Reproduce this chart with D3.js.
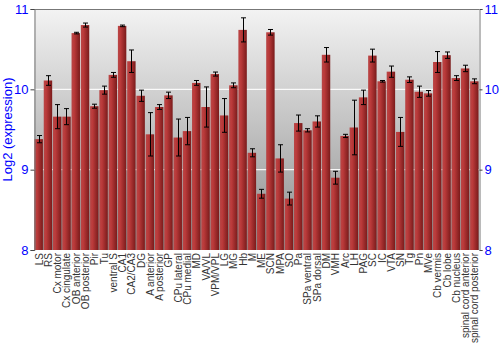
<!DOCTYPE html>
<html><head><meta charset="utf-8">
<script src="https://cdn.jsdelivr.net/npm/d3@7"></script>
<style>body{margin:0;background:#fff}svg{display:block}</style>
</head><body><svg id="c" width="500" height="350"></svg>
<script>
const categories = ["LS","RS","Cx motor","Cx cingulate","OB anterior","OB posterior","Pir","Tu","ventral S","CA1","CA2/CA3","DG","A anterior","A posterior","GP","CPu lateral","CPu medial","MD","VA/VL","VPM/VPL","LG","MG","Hb","M","ME","SCN","MPA","SO","Pa","SPa ventral","SPa dorsal","DM","VMH","Arc","LH","PAG","SC","IC","VTA","SN","Tg","Pn","MVe","Cb vermis","Cb lobe","Cb nucleus","spinal cord anterior","spinal cord posterior"];
const values = [9.38,10.11,9.66,9.66,10.70,10.80,9.79,9.99,10.18,10.79,10.35,9.92,9.44,9.78,9.925,9.40,9.48,10.08,9.78,10.19,9.675,10.05,10.74,9.21,8.70,10.71,9.14,8.64,9.58,9.49,9.60,10.43,8.90,9.42,9.525,9.90,10.42,10.10,10.22,9.47,10.12,9.97,9.95,10.34,10.425,10.14,10.26,10.10];
const errors = [0.045,0.06,0.15,0.10,0.01,0.025,0.025,0.05,0.03,0.01,0.14,0.07,0.27,0.03,0.04,0.23,0.17,0.03,0.25,0.025,0.21,0.03,0.15,0.05,0.055,0.035,0.17,0.08,0.10,0.02,0.07,0.09,0.08,0.02,0.34,0.09,0.08,0.01,0.07,0.18,0.035,0.07,0.035,0.13,0.04,0.03,0.04,0.03];
const yTicks = [8,9,10,11];

const svg = d3.select("#c");
const L = 34, R = 479, T = 9, B = 250;
const x = d3.scaleBand().domain(categories).range([L, R]).paddingInner(0.09).paddingOuter(0.05);
const y = d3.scaleLinear().domain([8, 11]).range([B, T]);

const defs = svg.append("defs");
const bg = defs.append("linearGradient").attr("id","bg").attr("x1",0).attr("y1",0).attr("x2",0).attr("y2",1);
bg.append("stop").attr("offset","0%").attr("stop-color","#f3f3f3");
bg.append("stop").attr("offset","100%").attr("stop-color","#8e8e8e");
const bar = defs.append("linearGradient").attr("id","bar").attr("x1",0).attr("y1",0).attr("x2",1).attr("y2",0);
bar.append("stop").attr("offset","0%").attr("stop-color","#b84646");
bar.append("stop").attr("offset","30%").attr("stop-color","#bb3a3a");
bar.append("stop").attr("offset","100%").attr("stop-color","#7a1b1b");

svg.append("rect").attr("x",L).attr("y",T).attr("width",R-L).attr("height",B-T).attr("fill","url(#bg)");

svg.append("g").selectAll("line").data(yTicks.filter(t=>t>8 && t<11)).join("line")
  .attr("x1",L).attr("x2",R).attr("y1",d=>y(d)).attr("y2",d=>y(d))
  .attr("stroke","#ffffff").attr("stroke-width",1.2).attr("opacity",0.9);

svg.append("g").selectAll("rect").data(categories).join("rect")
  .attr("x",d=>x(d)).attr("width",x.bandwidth())
  .attr("y",(d,i)=>y(values[i])).attr("height",(d,i)=>B-y(values[i]))
  .attr("fill","url(#bar)");

const eg = svg.append("g").attr("stroke","#000").attr("stroke-width",1);
categories.forEach((c,i)=>{
  const cx = Math.round(x(c)+x.bandwidth()/2)+0.5;
  const y1 = y(values[i]+errors[i]), y2 = y(values[i]-errors[i]);
  eg.append("line").attr("x1",cx).attr("x2",cx).attr("y1",y1).attr("y2",y2);
  eg.append("line").attr("x1",cx-2.5).attr("x2",cx+2.5).attr("y1",y1).attr("y2",y1);
  eg.append("line").attr("x1",cx-2.5).attr("x2",cx+2.5).attr("y1",y2).attr("y2",y2);
});

svg.append("line").attr("x1",L).attr("x2",R).attr("y1",T+0.5).attr("y2",T+0.5).attr("stroke","#777");

const la = svg.append("g").attr("transform",`translate(${L+0.5},0)`)
  .call(d3.axisLeft(y).tickValues(yTicks).tickSize(4).tickPadding(2).tickFormat(d3.format("d")));
const ra = svg.append("g").attr("transform",`translate(${R+0.5},0)`)
  .call(d3.axisRight(y).tickValues(yTicks).tickSize(3).tickPadding(2).tickFormat(d3.format("d")));
[la,ra].forEach(a=>{
  a.select(".domain").attr("stroke","#777");
  a.selectAll(".tick line").attr("stroke","#444");
  a.selectAll(".tick text").attr("fill","#0000ff").attr("font-family","Liberation Sans, Arial, sans-serif").attr("font-size",13);
});

svg.append("g").selectAll("text").data(categories).join("text")
  .attr("transform",d=>`translate(${x(d)+x.bandwidth()/2+4},${B+3}) rotate(-90)`)
  .attr("text-anchor","end")
  .attr("font-family","Liberation Sans, Arial, sans-serif").attr("font-size",10)
  .attr("fill","#333").text(d=>d);

svg.append("text").attr("transform",`translate(12,${(T+B)/2}) rotate(-90)`)
  .attr("text-anchor","middle").attr("font-family","Liberation Sans, Arial, sans-serif")
  .attr("font-size",13).attr("fill","#0000ff").text("Log2 (expression)");
</script></body></html>
